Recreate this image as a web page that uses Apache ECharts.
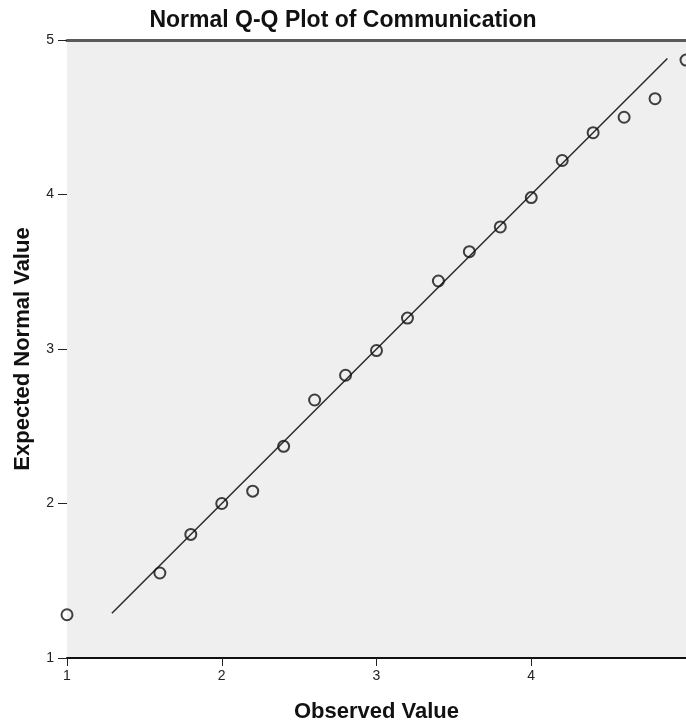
<!DOCTYPE html>
<html>
<head>
<meta charset="utf-8">
<script src="https://cdn.jsdelivr.net/npm/echarts@6/dist/echarts.min.js"></script>
<style>
html,body{margin:0;padding:0;background:#fff;}
#chart{width:686px;height:725px;}
</style>
</head>
<body>
<div id="chart"></div>
<script>
const titleText = 'Normal Q-Q Plot of Communication';
const xAxisName = 'Observed Value';
const yAxisName = 'Expected Normal Value';
const observed = [1.0, 1.6, 1.8, 2.0, 2.2, 2.4, 2.6, 2.8, 3.0, 3.2, 3.4, 3.6, 3.8, 4.0, 4.2, 4.4, 4.6, 4.8, 5.0];
const expected = [1.28, 1.55, 1.80, 2.00, 2.08, 2.37, 2.67, 2.83, 2.99, 3.20, 3.44, 3.63, 3.79, 3.98, 4.22, 4.40, 4.50, 4.62, 4.87];
const refLineX = [1.29, 4.88];
const refLineY = [1.29, 4.88];

const chart = echarts.init(document.getElementById('chart'));
const font = '"Liberation Sans", Arial, sans-serif';
chart.setOption({
  animation: false,
  backgroundColor: '#ffffff',
  title: {
    text: titleText,
    left: 'center',
    top: 4,
    textStyle: {fontFamily: font, fontSize: 23, fontWeight: 'bold', color: '#111'}
  },
  grid: {left: 67, right: 0, top: 40, bottom: 67, show: true, backgroundColor: '#efefef', borderWidth: 0, containLabel: false, outerBoundsMode: 'none'},
  xAxis: [{
    type: 'value', min: 1, max: 5, interval: 1,
    name: xAxisName, nameLocation: 'middle', nameGap: 43,
    nameTextStyle: {fontFamily: font, fontSize: 22, fontWeight: 'bold', color: '#111'},
    axisLine: {show: true, lineStyle: {color: '#111', width: 2}},
    axisTick: {show: true, length: 8, lineStyle: {color: '#222', width: 1}},
    axisLabel: {fontFamily: font, fontSize: 14, color: '#222', margin: 11, showMaxLabel: false},
    splitLine: {show: false}
  }, {
    type: 'value', min: 1, max: 5, position: 'top',
    axisLine: {show: true, lineStyle: {color: '#5a5a5a', width: 3}},
    axisTick: {show: false}, axisLabel: {show: false}, splitLine: {show: false}
  }],
  yAxis: {
    type: 'value', min: 1, max: 5, interval: 1,
    name: yAxisName, nameLocation: 'middle', nameGap: 33,
    nameTextStyle: {fontFamily: font, fontSize: 22, fontWeight: 'bold', color: '#111'},
    axisLine: {show: false},
    axisTick: {show: true, length: 9, lineStyle: {color: '#222', width: 1}},
    axisLabel: {fontFamily: font, fontSize: 14, color: '#222', margin: 13},
    splitLine: {show: false}
  },
  series: [{
    type: 'line',
    data: refLineX.map((x, i) => [x, refLineY[i]]),
    showSymbol: false,
    lineStyle: {color: '#2a2a2a', width: 1.5},
    z: 2
  }, {
    type: 'scatter',
    data: observed.map((x, i) => [x, expected[i]]),
    symbol: 'circle',
    symbolSize: 11,
    itemStyle: {color: 'rgba(0,0,0,0)', borderColor: '#111', borderWidth: 2},
    z: 3
  }]
});
</script>
</body>
</html>
